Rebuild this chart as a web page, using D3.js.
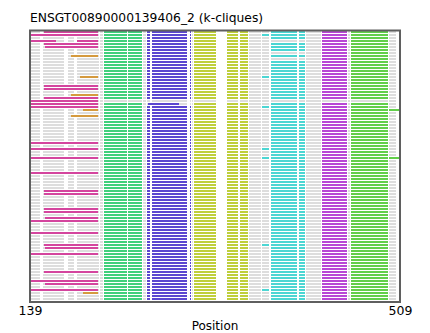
<!DOCTYPE html>
<html><head><meta charset="utf-8">
<script src="https://cdn.jsdelivr.net/npm/d3@7"></script>
<style>
body{margin:0;background:#fff}
svg{display:block}
text{font-family:"DejaVu Sans",sans-serif;fill:#000}
</style>
</head><body>
<svg id="chart" width="430" height="333"></svg>
<script>
const title = "ENSGT00890000139406_2 (k-cliques)";
const xDomain = [139, 509];
const xTicks = [139, 509];
const xLabel = "Position";

// Alignment blocks (sequence positions), one column per character of a row string
const blockStart = [139,152,177,186,209,213,237,252,256,261,299,301,303,326,336,349,358,371,380,408,415,431,457,460,498];
const blockEnd   = [149,173,183,208,212,236,251,255,259,296,300,302,325,335,347,357,370,378,406,414,430,456,459,497,505];

// One string per sequence: '.' = no residue, '-' = aligned (grey), letter = k-clique
const rowBlocks = [
  "-----gg-bbb-y.yy--cc-p-l-","-----gg-bbb-y.yy-ccc-p-l-","-----gg-bbb-y.yy--cc-p-l-","-----gg-bbb-y.yy-----p-l-",
  "-----gg-bbb-y.yy--cc-p-l-","-----gg-bbb-y.yy--cc-p-l-","-----gg-bbb-y.yy--cc-p-l-","-----gg-bbb-y.yy-----p-l-",
  "-----gg-bbb-y.yy--cc-p-l-","-----gg-bbb-y.yy-----p-l-","-----gg-bbb-y.yy--cc-p-l-","-----gg-bbb-y.yy--cc-p-l-",
  "-----gg-bbb-y.yy--cc-p-l-","-----gg-bbb-y.yy--cc-p-l-","-----gg-bbb-y.yy--cc-p-l-","-----gg-bbb-y.yy-ccc-p-l-",
  "-----gg-bbb-y.yy--cc-p-l-","-----gg-bbb-y.yy--cc-p-l-","-----gg-bbb-y.yy--cc-p-l-","-----gg-bbb-y.yy--cc-p-l-",
  "-----gg-bbb-y.yy--cc-p-l-","-----gg-bbb-y.yy--cc-p-l-","-----gg-bbb-y.yy--cc-p-l-","-------------.-----------",
  "-----gg-----y.yy--cc-p-l-","-----gg-bbb-y.yy-ccc-p-l-","-----gg-bbb-y.yy--cc-p-l-","-----gg-bbb-y.yy--cc-p-l-",
  "-----gg-bbb-y.yy--cc-p-l-","-----gg-bbb-y.yy--cc-p-l-","-----gg-bbb-y.yy--cc-p-l-","-----gg-bbb-y.yy--cc-p-l-",
  "-----gg-bbb-y.yy--cc-p-l-","-----gg-bbb-y.yy--cc-p-l-","-----gg-bbb-y.yy--cc-p-l-","-----gg-bbb-y.yy--cc-p-l-",
  "-----gg-bbb-y.yy--cc-p-l-","-----gg-bbb-y.yy--cc-p-l-","-----gg-bbb-y.yy--cc-p-l-","-----gg-bbb-y.yy-ccc-p-l-",
  "-----gg-bbb-y.yy--cc-p-l-","-----gg-bbb-y.yy--cc-p-l-","-----gg-bbb-y.yy-ccc-p-l-","-----gg-bbb-y.yy--cc-p-l-",
  "-----gg-bbb-y.yy--cc-p-l-","-----gg-bbb-y.yy--cc-p-l-","-----gg-bbb-y.yy--cc-p-l-","-----gg-bbb-y.yy--cc-p-l-",
  "-----gg-bbb-y.yy--cc-p-l-","-----gg-bbb-y.yy--cc-p-l-","-----gg-bbb-y.yy--cc-p-l-","-----gg-bbb-y.yy--cc-p-l-",
  "-----gg-bbb-y.yy--cc-p-l-","-----gg-bbb-y.yy--cc-p-l-","-----gg-bbb-y.yy--cc-p-l-","-----gg-bbb-y.yy--cc-p-l-",
  "-----gg-bbb-y.yy--cc-p-l-","-----gg-bbb-y.yy--cc-p-l-","-----gg-bbb-y.yy--cc-p-l-","-----gg-bbb-y.yy--cc-p-l-",
  "-----gg-bbb-y.yy--cc-p-l-","-----gg-bbb-y.yy--cc-p-l-","-----gg-bbb-y.yy--cc-p-l-","-----gg-bbb-y.yy--cc-p-l-",
  "-----gg-bbb-y.yy--cc-p-l-","-----gg-bbb-y.yy--cc-p-l-","-----gg-bbb-y.yy--cc-p-l-","-----gg-bbb-y.yy--cc-p-l-",
  "-----gg-bbb-y.yy--cc-p-l-","-----gg-bbb-y.yy--cc-p-l-","-----gg-bbb-y.yy--cc-p-l-","-----gg-bbb-y.yy-ccc-p-l-",
  "-----gg-bbb-y.yy--cc-p-l-","-----gg-bbb-y.yy--cc-p-l-","-----gg-bbb-y.yy--cc-p-l-","-----gg-bbb-y.yy--cc-p-l-",
  "-----gg-bbb-y.yy--cc-p-l-","-----gg-bbb-y.yy--cc-p-l-","-----gg-bbb-y.yy--cc-p-l-","-----gg-bbb-y.yy--cc-p-l-",
  "-----gg-bbb-y.yy--cc-p-l-","-----gg-bbb-y.yy--cc-p-l-","-----gg-bbb-y.yy--cc-p-l-","-----gg-bbb-y.yy--cc-p-l-",
  "-----gg-bbb-y.yy--cc-p-l-","-----gg-bbb-y.yy--cc-p-l-","-----gg-bbb-y.yy-ccc-p-l-","-----gg-bbb-y.yy--cc-p-l-",
  "-----gg-bbb-y.yy--cc-p-l-","-----gg-bbb-y.yy--cc-p-l-"
];

// Clique segments that do not follow block boundaries: [row, start, end, clique]
const cliqueSegs = [
  [0,153,207,"m"],[1,139,207,"m"],[3,139,165,"m"],[3,186,207,"m"],[4,153,207,"m"],[5,154,207,"m"],
  [8,180,207,"o"],[15,189,207,"o"],[18,153,207,"m"],[19,153,207,"m"],[21,180,207,"o"],[22,153,207,"m"],
  [23,139,207,"m"],[24,139,207,"m"],[24,257,288,"b"],[25,139,207,"m"],[26,192,207,"o"],[26,498,509,"l"],
  [28,180,207,"o"],[37,139,207,"m"],[39,139,207,"m"],[42,139,207,"m"],[42,498,509,"l"],[47,139,207,"m"],
  [53,153,207,"m"],[54,153,207,"m"],[59,153,207,"m"],[60,153,207,"m"],[62,154,207,"m"],[63,139,207,"m"],
  [67,139,207,"m"],[71,153,207,"m"],[72,154,207,"m"],[74,139,207,"m"],[80,153,207,"m"],
  [83,139,207,"m"],[84,154,207,"m"],[86,139,207,"m"],[87,192,207,"o"]
];

const cliqueColors = {
  "-": "#dddddd",
  m: "#d4459e", o: "#d59a3e", g: "#40d07b", b: "#5b47d0",
  y: "#bfcf3b", c: "#4cd6d3", p: "#b847d5", l: "#62cf4a"
};

const svg = d3.select("#chart");
const W = 430;

const x = d3.scaleLinear().domain(xDomain).range([30, W - 30]);
// 3px per row; rows centred on whole pixels so each 2px stroke stays crisp
const y = d3.scaleBand().domain(d3.range(rowBlocks.length)).range([30.5, 300.5]);
const yc = r => y(r) + y.bandwidth() / 2;

// flatten block strings into drawable segments
const segs = [];
rowBlocks.forEach((s, r) => {
  [...s].forEach((ch, k) => {
    if (ch !== ".") segs.push({row: r, start: blockStart[k], end: blockEnd[k], key: ch});
  });
});
cliqueSegs.forEach(([row, start, end, key]) => segs.push({row, start, end, key}));

svg.append("g").selectAll("line").data(segs).join("line")
  .attr("x1", d => x(d.start)).attr("x2", d => x(d.end))
  .attr("y1", d => yc(d.row)).attr("y2", d => yc(d.row))
  .attr("stroke", d => cliqueColors[d.key])
  .attr("stroke-width", 2);

// frame
svg.append("rect")
  .attr("x", x(xDomain[0])).attr("y", 30.5)
  .attr("width", x(xDomain[1]) - x(xDomain[0])).attr("height", 302 - 30.5)
  .attr("fill", "none").attr("stroke", "#5f5f5f").attr("stroke-width", 2);

// x axis: labels only at the two ends
const axis = d3.axisBottom(x).tickValues(xTicks).tickSize(0).tickPadding(0).tickFormat(d3.format("d"));
const ax = svg.append("g").attr("transform", "translate(0,303)").call(axis);
ax.select(".domain").remove();
ax.selectAll("text").attr("dy", null).attr("y", 12.3)
  .style("font-size", "12.5px").style("font-family", '"DejaVu Sans",sans-serif').attr("fill", "#000");

svg.append("text").attr("x", (x(xDomain[0]) + x(xDomain[1])) / 2).attr("y", 330)
  .attr("text-anchor", "middle").style("font-size", "12px").text(xLabel);

svg.append("text").attr("x", 30).attr("y", 22)
  .style("font-size", "12.3px").text(title);
</script>
</body></html>
